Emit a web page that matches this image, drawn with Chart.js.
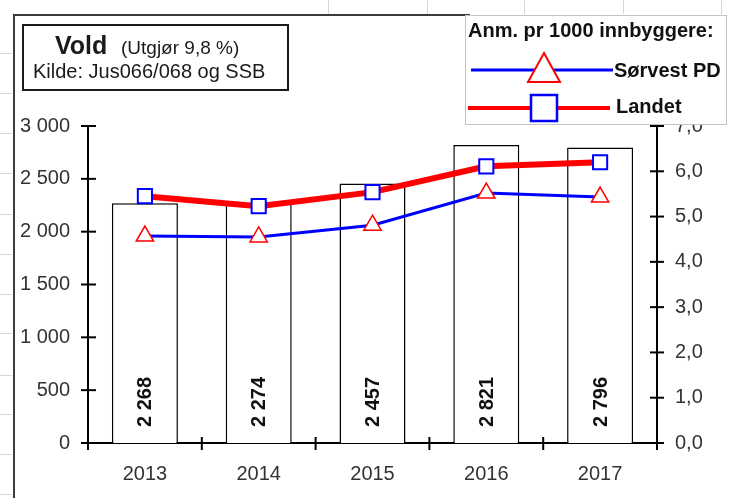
<!DOCTYPE html>
<html>
<head>
<meta charset="utf-8">
<script src="https://cdn.jsdelivr.net/npm/chart.js@4.4.1/dist/chart.umd.min.js"></script>
<style>
  html, body { margin: 0; background: #fff; }
  #wrap { width: 730px; height: 498px; position: relative; }
</style>
</head>
<body>
<div id="wrap"><canvas id="chart" width="730" height="498"></canvas></div>
<script>
// data
const years = ['2013', '2014', '2015', '2016', '2017'];
const antallAnm = [2268, 2274, 2457, 2821, 2796];      // bars, left axis
const sorvestPD = [4.57, 4.55, 4.81, 5.52, 5.43];      // pr 1000 innb., right axis
const landet = [5.45, 5.23, 5.54, 6.11, 6.20];         // pr 1000 innb., right axis
const titleMain = 'Vold';
const titleSub = '(Utgjør 9,8 %)';
const titleSource = 'Kilde: Jus066/068 og SSB';
const legendTitle = 'Anm. pr 1000 innbyggere:';
const seriesNames = ['Sørvest PD', 'Landet'];

const FONT = '"Liberation Sans", Arial, sans-serif';
Chart.defaults.font.family = FONT;

function spaced(n) {
    return String(Math.round(n)).replace(/\B(?=(\d{3})+(?!\d))/g, ' ');
}

// excel-ish decorations: sheet grid, frame, cross ticks, title box, legend box
const decor = {
    id: 'decor',
    beforeDraw(chart) {
        const ctx = chart.ctx;
        ctx.save();
        ctx.fillStyle = '#fff';
        ctx.fillRect(0, 0, chart.width, chart.height);
        ctx.strokeStyle = '#d6d6d6';
        ctx.lineWidth = 1;
        [53, 93, 133, 173, 214, 254, 294, 333, 375, 414, 454, 494].forEach(y => {
            ctx.beginPath(); ctx.moveTo(0, y + 0.5); ctx.lineTo(12, y + 0.5); ctx.stroke();
        });
        [328, 427, 524, 623, 721].forEach(x => {
            ctx.beginPath(); ctx.moveTo(x + 0.5, 0); ctx.lineTo(x + 0.5, 14); ctx.stroke();
        });
        // chart frame
        ctx.strokeStyle = '#3a3a3a';
        ctx.lineWidth = 2;
        ctx.beginPath();
        ctx.moveTo(14, chart.height);
        ctx.lineTo(14, 15);
        ctx.lineTo(470, 15);
        ctx.stroke();
        ctx.restore();
    },
    afterDatasetsDraw(chart) {
        const ctx = chart.ctx;
        const bars = chart.getDatasetMeta(0).data;
        ctx.save();
        ctx.fillStyle = '#111';
        ctx.font = 'bold 20px ' + FONT;
        ctx.textAlign = 'left';
        ctx.textBaseline = 'middle';
        bars.forEach((bar, i) => {
            ctx.save();
            ctx.translate(bar.x + 1, 427);
            ctx.rotate(-Math.PI / 2);
            ctx.fillText(spaced(antallAnm[i]), 0, 0);
            ctx.restore();
        });
        ctx.restore();
    },
    afterDraw(chart) {
        const ctx = chart.ctx;
        const {x, y, y1} = chart.scales;
        const area = chart.chartArea;
        ctx.save();
        ctx.strokeStyle = '#000';
        ctx.lineWidth = 2;
        // cross tick marks
        y.ticks.forEach(t => {
            const py = y.getPixelForValue(t.value);
            ctx.beginPath(); ctx.moveTo(area.left - 7, py); ctx.lineTo(area.left + 8, py); ctx.stroke();
        });
        y1.ticks.forEach(t => {
            const py = y1.getPixelForValue(t.value);
            ctx.beginPath(); ctx.moveTo(area.right - 7, py); ctx.lineTo(area.right + 7, py); ctx.stroke();
        });
        const step = (area.right - area.left) / years.length;
        for (let i = 0; i <= years.length; i++) {
            const px = area.left + i * step;
            ctx.beginPath(); ctx.moveTo(px, area.bottom - 6); ctx.lineTo(px, area.bottom + 7); ctx.stroke();
        }

        // title box
        ctx.fillStyle = '#fff';
        ctx.fillRect(23, 25, 265, 65);
        ctx.strokeStyle = '#1a1a1a';
        ctx.lineWidth = 2;
        ctx.strokeRect(23, 25, 265, 65);
        ctx.fillStyle = '#1a1a1a';
        ctx.textAlign = 'left';
        ctx.textBaseline = 'alphabetic';
        ctx.font = 'bold 25px ' + FONT;
        ctx.fillText(titleMain, 55, 54);
        ctx.font = '19px ' + FONT;
        ctx.fillText(titleSub, 121, 54);
        ctx.font = '20px ' + FONT;
        ctx.fillText(titleSource, 33, 78);

        // legend box
        ctx.fillStyle = '#fff';
        ctx.fillRect(465, 15, 262, 110);
        ctx.strokeStyle = '#c4c4c4';
        ctx.lineWidth = 1;
        ctx.strokeRect(465.5, 15.5, 261, 109);
        ctx.fillStyle = '#111';
        ctx.font = 'bold 20px ' + FONT;
        ctx.fillText(legendTitle, 468, 37);

        // Sørvest PD sample
        ctx.strokeStyle = '#0000ff';
        ctx.lineWidth = 3;
        ctx.beginPath(); ctx.moveTo(471, 70); ctx.lineTo(613, 70); ctx.stroke();
        ctx.beginPath();
        ctx.moveTo(544, 53); ctx.lineTo(560, 82); ctx.lineTo(528, 82); ctx.closePath();
        ctx.fillStyle = '#fff'; ctx.fill();
        ctx.strokeStyle = '#ff0000'; ctx.lineWidth = 2; ctx.stroke();
        ctx.fillStyle = '#111';
        ctx.fillText(seriesNames[0], 614, 77);

        // Landet sample
        ctx.strokeStyle = '#ff0000';
        ctx.lineWidth = 4;
        ctx.beginPath(); ctx.moveTo(468, 108); ctx.lineTo(610, 108); ctx.stroke();
        ctx.fillStyle = '#fff';
        ctx.fillRect(531, 95, 26, 26);
        ctx.strokeStyle = '#0000ff'; ctx.lineWidth = 2.5;
        ctx.strokeRect(531, 95, 26, 26);
        ctx.fillStyle = '#111';
        ctx.fillText(seriesNames[1], 616, 113);
        ctx.restore();
    }
};

new Chart(document.getElementById('chart'), {
    data: {
        labels: years,
        datasets: [
            {
                type: 'bar',
                label: 'Antall',
                data: antallAnm,
                yAxisID: 'y',
                backgroundColor: '#fff',
                borderColor: '#000',
                borderWidth: 1.5,
                barPercentage: 0.58,
                categoryPercentage: 1,
                order: 3
            },
            {
                type: 'line',
                label: seriesNames[0],
                data: sorvestPD,
                yAxisID: 'y1',
                borderColor: '#0000ff',
                borderWidth: 3,
                tension: 0,
                pointStyle: 'triangle',
                pointRadius: 10,
                pointBorderColor: '#ff0000',
                pointBackgroundColor: '#fff',
                pointBorderWidth: 1.5,
                order: 1
            },
            {
                type: 'line',
                label: seriesNames[1],
                data: landet,
                yAxisID: 'y1',
                borderColor: '#ff0000',
                borderWidth: 6,
                tension: 0,
                pointStyle: 'rect',
                pointRadius: 10,
                pointBorderColor: '#0000ff',
                pointBackgroundColor: '#fff',
                pointBorderWidth: 2,
                order: 2
            }
        ]
    },
    options: {
        responsive: false,
        animation: false,
        layout: { padding: { top: 126, left: 0, right: 0, bottom: 0 } },
        plugins: { legend: { display: false }, title: { display: false }, tooltip: { enabled: false } },
        scales: {
            x: {
                offset: true,
                grid: { display: false },
                border: { display: true, color: '#000', width: 2 },
                ticks: { color: '#333', font: { size: 20 }, padding: 11, maxRotation: 0 },
                afterFit: s => { s.height = 55; }
            },
            y: {
                position: 'left',
                min: 0, max: 3000,
                grid: { display: false, drawTicks: false },
                border: { display: true, color: '#000', width: 2 },
                ticks: { stepSize: 500, color: '#333', font: { size: 20 }, padding: 18, callback: v => spaced(v) },
                afterFit: s => { s.width = 88; }
            },
            y1: {
                position: 'right',
                min: 0, max: 7,
                grid: { display: false, drawTicks: false },
                border: { display: true, color: '#000', width: 2 },
                ticks: { stepSize: 1, color: '#333', font: { size: 20 }, padding: 18, callback: v => v.toFixed(1).replace('.', ',') },
                afterFit: s => { s.width = 73; }
            }
        }
    },
    plugins: [decor]
});
</script>
</body>
</html>
